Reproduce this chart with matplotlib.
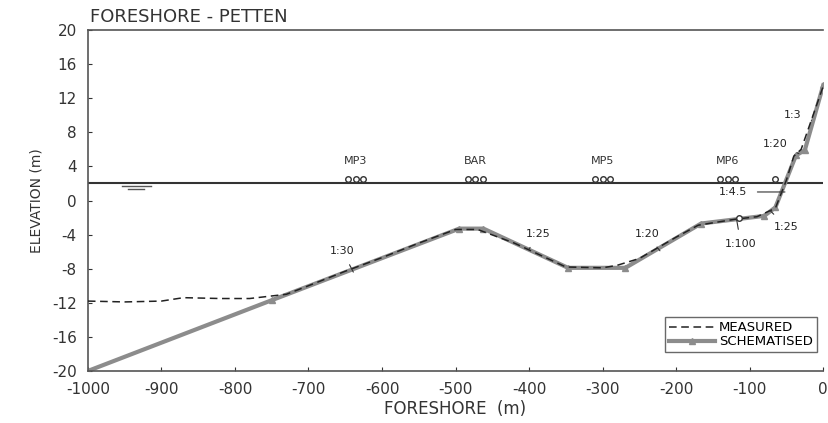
import numpy as np
import matplotlib
matplotlib.use("Agg")
import matplotlib.pyplot as plt

plt.rcParams["axes.unicode_minus"] = False

# schematised profile (m)
schem_x = [-1000, -750, -495, -462, -347, -269, -166, -80, -65, -37, -25, 0]
schem_y = [-20, -11.7, -3.3, -3.3, -7.9, -7.9, -2.7, -1.8, -0.8, 5.3, 5.9, 13.5]

# measured profile (m)
meas_x = [-1000, -950, -900, -870, -820, -780, -730, -700, -650, -600, -550, -500,
          -470, -420, -380, -350, -300, -280, -250, -200, -170, -120, -90, -65,
          -50, -40, -30, 0]
meas_y = [-11.8, -11.9, -11.8, -11.4, -11.5, -11.5, -11.0, -10.0, -8.3, -6.7, -5.0, -3.4,
          -3.4, -5.0, -6.6, -7.8, -7.9, -7.6, -6.8, -4.3, -2.9, -2.2, -1.9, -0.9,
          2.4, 5.2, 6.0, 13.4]

swl = 2.1  # still water level

gauge_names = ["MP3", "BAR", "MP5", "MP6"]
gauge_x = [-636, -473, -300, -130]
gauge_dx = [-10, 0, 10]

slope_labels = ["1:30", "1:25", "1:20", "1:100", "1:25", "1:4.5", "1:20", "1:3"]
slope_text_xy = [(-654, -5.9), (-387, -3.9), (-240, -3.9), (-112, -5.1),
                 (-50, -3.1), (-122, 1.0), (-65, 6.6), (-41, 10.0)]
slope_arrow_xy = [(-639, -8.4), (-400, -5.7), (-222, -5.9), (-118, -2.1),
                  (-72, -1.2), (-52, 1.0), (-33, 5.5), (-16, 9.4)]

gray = "#8c8c8c"
fig = plt.figure(figsize=(8.29, 4.23), dpi=100)
ax = fig.add_axes([0.106, 0.123, 0.887, 0.806])

ax.axhline(swl, color="#333333", lw=1.5, zorder=2)
ax.plot([-954, -914], [1.65, 1.65], color="#555555", lw=1)
ax.plot([-946, -924], [1.3, 1.3], color="#555555", lw=1)

ax.plot(schem_x, schem_y, "-", color=gray, lw=3, marker="^", ms=5,
        markerfacecolor=gray, markeredgecolor=gray, label="SCHEMATISED", zorder=2)
ax.plot(meas_x, meas_y, "--", color="#222222", lw=1.1, dashes=(5, 3), label="MEASURED", zorder=3)

for name, gx in zip(gauge_names, gauge_x):
    ax.plot([gx + d for d in gauge_dx], [swl + 0.45] * 3, "o", ms=4, mfc="white",
            mec="#333333", mew=1, zorder=4)
    ax.text(gx, swl + 1.9, name, ha="center", va="bottom", fontsize=8, color="#333333")
ax.plot([-65], [swl + 0.45], "o", ms=4, mfc="white", mec="#333333", mew=1, zorder=4)
ax.plot([-115], [-2.0], "o", ms=4, mfc="white", mec="#333333", mew=1, zorder=4)

for lab, (tx, ty), (axx, ayy) in zip(slope_labels, slope_text_xy, slope_arrow_xy):
    ax.annotate(lab, xy=(axx, ayy), xytext=(tx, ty), fontsize=8, color="#222222",
                ha="center", va="center",
                arrowprops=dict(arrowstyle="-", color="#333333", lw=0.8, shrinkA=5, shrinkB=0))

ax.set_xlim(-1000, 0)
ax.set_ylim(-20, 20)
ax.set_xticks(np.arange(-1000, 1, 100))
ax.set_yticks(np.arange(-20, 21, 4))
ax.tick_params(direction="in", length=3, labelsize=11, colors="#333333", pad=8)
for s in ax.spines.values():
    s.set_color("#555555")
    s.set_linewidth(1.2)
ax.spines["right"].set_visible(False)

ax.set_xlabel("FORESHORE  (m)", fontsize=12, color="#333333", labelpad=2)
ax.set_ylabel("ELEVATION (m)", fontsize=10, color="#333333", labelpad=6)
ax.text(0.003, 1.012, "FORESHORE - PETTEN", transform=ax.transAxes, fontsize=13,
        color="#333333", ha="left", va="bottom")

handles, labels = ax.get_legend_handles_labels()
leg = ax.legend(handles[::-1], labels[::-1], loc="lower right", bbox_to_anchor=(1.0, 0.035),
                fontsize=9.5, frameon=True, fancybox=False, handlelength=3.5, borderpad=0.3,
                labelspacing=0.1, handletextpad=0.3)
leg.get_frame().set_edgecolor("#444444")
leg.get_frame().set_linewidth(1)

fig.savefig("out.png", dpi=100)
